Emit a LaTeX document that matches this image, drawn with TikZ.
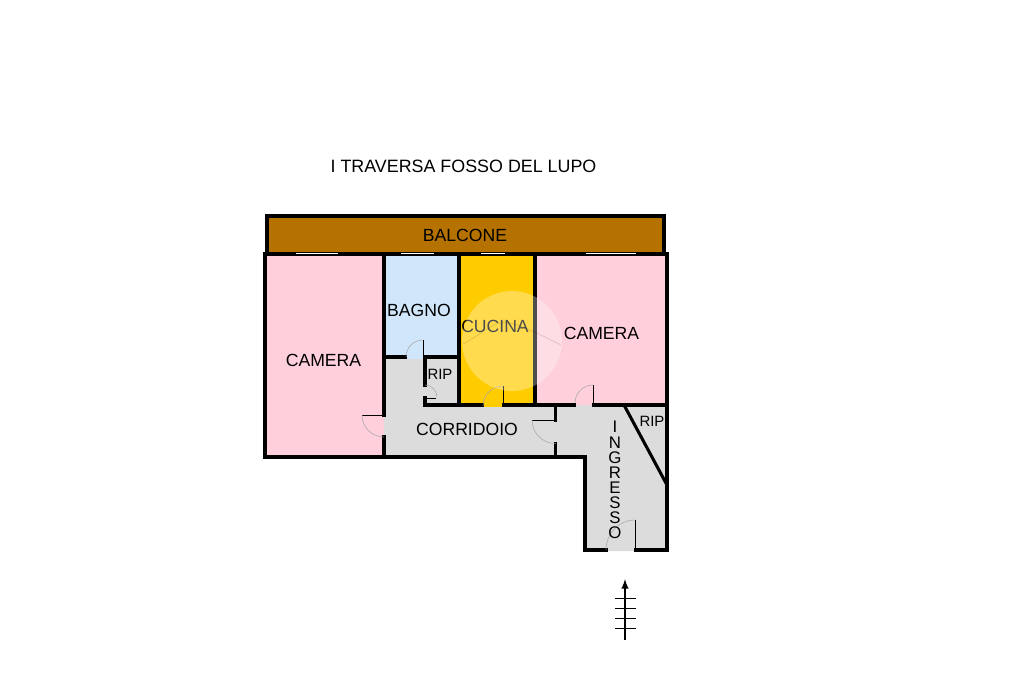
\documentclass[tikz,border=0pt]{standalone}
\usepackage{fontspec}
\setmainfont{Liberation Sans}
\usetikzlibrary{arrows}
\tikzset{
  wall/.style={line width=2.3pt,line cap=rect},
  leaf/.style={line width=0.75pt},
  swing/.style={line width=0.4pt,draw=black!35},
  glass/.style={line width=0.8pt,white},
  lbl/.style={inner sep=0pt,font=\fontsize{13.2}{15}\selectfont},
  smalllbl/.style={inner sep=0pt,font=\fontsize{11.2}{13}\selectfont},
  tick/.style={line width=0.75pt}
}
\definecolor{balconycol}{HTML}{B57200}
\definecolor{bedcol}{HTML}{FFCFDB}
\definecolor{bathcol}{HTML}{D0E6FA}
\definecolor{kitchencol}{HTML}{FFCC00}
\definecolor{hallcol}{HTML}{DCDCDC}
\begin{document}
\begin{tikzpicture}[x=0.75pt,y=-0.75pt]
    \useasboundingbox (0,0) rectangle (1024,682);
    \fill [balconycol] (267,216) rectangle (664,254);
    \fill [bedcol] (265,254) rectangle (384,457);
    \fill [bathcol] (384,254) rectangle (459,357);
    \fill [kitchencol] (459,254) rectangle (535,405);
    \fill [bedcol] (535,254) rectangle (667,405);
    \fill [hallcol] (384,357) -- (459,357) -- (459,405) -- (667,405) -- (667,551) -- (585,551) -- (585,457) -- (384,457) -- cycle;
    \fill [bathcol] (406,359) -- (423,359) -- (423,357) -- (406,357) -- cycle;
    \fill [kitchencol] (483,407) -- (503,407) -- (503,403) -- (483,403) -- cycle;
    \fill [bedcol] (575,403) -- (593,403) -- (593,405) -- (575,405) -- cycle;
    \draw [wall] (267,254) -- (267,216) -- (664,216) -- (664,254);
    \draw [wall] (265,254) -- (667,254);
    \draw [wall] (265,254) -- (265,457) -- (585,457) -- (585,550) -- (606,550);
    \draw [wall] (636,550) -- (667,550) -- (667,254);
    \draw [wall] (384,254) -- (384,415);
    \draw [wall] (384,437) -- (384,457);
    \draw [wall] (459,254) -- (459,405);
    \draw [wall] (535,254) -- (535,405);
    \draw [wall] (384,357) -- (405,357);
    \draw [wall] (425,357) -- (459,357);
    \draw [wall] (425,357) -- (425,385);
    \draw [wall] (425,398) -- (425,405) -- (482,405);
    \draw [wall] (504,405) -- (574,405);
    \draw [wall] (594,405) -- (667,405);
    \draw [wall] (555.5,405) -- (555.5,420);
    \draw [wall] (555.5,444) -- (555.5,457);
    \draw [wall] (624,405) -- (667,485);
    \draw [leaf] (425,398) -- (436,398);
    \draw [leaf] (384,415) -- (362,415);
    \draw [leaf] (423.5,357) -- (423.5,340);
    \draw [leaf] (503,405) -- (503,386);
    \draw [leaf] (593,405) -- (593,385);
    \draw [leaf] (555,420) -- (532,420);
    \draw [leaf] (635.5,550) -- (635.5,520);
    \draw [swing] (423,340) arc (270:180:17);
    \draw [swing] (425,385) arc (270:360:12);
    \draw [swing] (503,386) arc (270:180:20);
    \draw [swing] (593,385) arc (270:180:18);
    \draw [swing] (362,415) arc (180:90:22);
    \draw [swing] (532,420) arc (180:90:23.5);
    \draw [swing] (635,520) arc (270:180:29 and 30);
    \draw [glass] (296,253.5) -- (338,253.5);
    \draw [glass] (401,253.5) -- (434,253.5);
    \draw [glass] (481,253.5) -- (505,253.5);
    \draw [glass] (586,253.5) -- (636,253.5);
    \node [lbl,font=\fontsize{13.4}{15}\selectfont] (street) at (463.5,166) {I TRAVERSA FOSSO DEL LUPO};
    \node [lbl] (balcone) at (465,235) {BALCONE};
    \node [lbl] (cameraleft) at (323.5,360) {CAMERA};
    \node [lbl] (bagno) at (419,310) {BAGNO};
    \node [lbl] (cucina) at (495,326) {CUCINA};
    \node [lbl] (cameraright) at (601.5,333) {CAMERA};
    \node [lbl] (corridoio) at (467,429) {CORRIDOIO};
    \node [smalllbl] (ripbath) at (440,374) {RIP};
    \node [smalllbl] (riphall) at (652,421) {RIP};
    \node [lbl,align=center,font=\fontsize{12.6}{11.3}\selectfont] (ingresso) at (615,480) {I\\[0pt]N\\[0pt]G\\[0pt]R\\[0pt]E\\[0pt]S\\[0pt]S\\[0pt]O};
    \fill [white,opacity=0.3] (512,341) circle (50);
    \draw [black,opacity=0.12,line width=0.6pt] (463,344) .. controls (480,335) and (490,325) .. (500,323) .. controls (515,320) and (540,335) .. (561,345);
    \coordinate (arrowbase) at (625,640);
    \coordinate (arrowtip) at (625,579);
    \draw [line width=1.5pt,-latex] (arrowbase) -- (arrowtip);
    \foreach \y in {598,608,618,628}
        \draw [tick] (615,\y) -- (636,\y);
\end{tikzpicture}
\end{document}
